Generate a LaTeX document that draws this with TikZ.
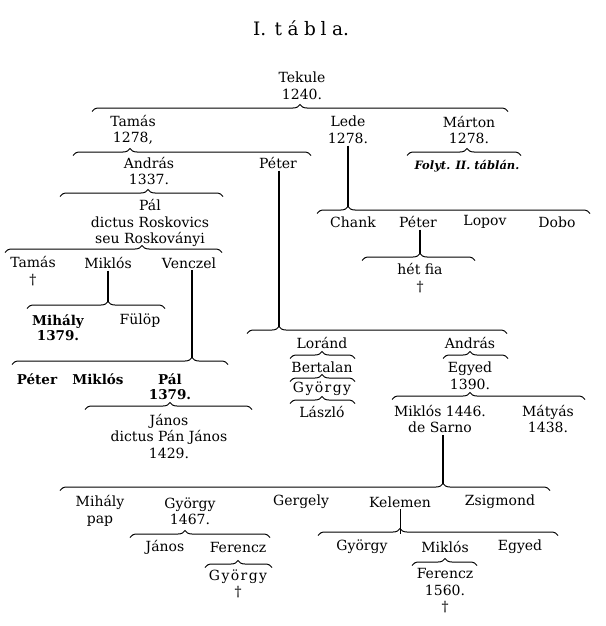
\documentclass[tikz,border=0pt]{standalone}
\usepackage{fontspec}
\setmainfont{DejaVu Serif}
\usetikzlibrary{decorations.pathreplacing}
\tikzset{
  tabla diagram/.style={
    x=1pt, y=-1pt, draw=black,
    every node/.style={font=\fontsize{14}{16.5}\selectfont,
      text=black, inner sep=0pt, outer sep=0pt, align=center}
  },
  tabla brace/.style={decorate, line width=1pt},
  tabla line/.style={line width=1.6pt, shorten <=2pt},
  tabla thin/.style={line width=0.8pt, shorten <=2pt},
  tabla title/.style={font=\fontsize{18.5}{20}\selectfont},
  tabla note/.style={font=\fontsize{11.5}{14}\selectfont\bfseries\itshape},
  tabla bold/.style={font=\fontsize{13.5}{15}\selectfont\bfseries}
}
\newcommand{\TablaBrace}[5]{%
  \pgfmathsetmacro{\tablaAspect}{(#4-#2)/(#3-#2)}%
  \draw[tabla brace, decoration={brace, amplitude=7pt, aspect=\tablaAspect}]
    (#2,#5+3.5) -- (#3,#5+3.5);
  \coordinate (#1) at (#4,#5-3.5);
}
\newcommand{\Spaced}[1]{G\hspace{.1em}y\hspace{.1em}ö\hspace{.1em}r\hspace{.1em}g\hspace{.1em}y}

\begin{document}
\begin{tikzpicture}[tabla diagram]
  \fill[white] (0,0) rectangle (605,626);
  \useasboundingbox (0,0) rectangle (605,626);
  \node[tabla title] (cim) at (301,28)
    {I.\hspace{.45em}t\hspace{.3em}á\hspace{.3em}b\hspace{.25em}l\hspace{.3em}a.};

  \node (tekule) at (302,86) {Tekule\\1240.};
  \TablaBrace{tekuleK}{92}{508}{300}{108}

  \node (tamas) at (133,130) {Tamás\\1278,};
  \node (lede) at (348,130) {Lede\\1278.};
  \node (marton) at (469,130) {Márton\\1278.};
  \TablaBrace{tamasK}{73}{311}{130}{152}
  \TablaBrace{martonK}{407}{521}{467}{152}
  \node[tabla note] (folyt) at (467,166) {Folyt. II. táblán.};

  \node (andras) at (149,171) {András\\1337.};
  \node (peter) at (278,163) {Péter};
  \TablaBrace{andrasK}{60}{223}{148}{193}
  \node (pal) at (150,223) {Pál\\dictus Roskovics\\seu Roskoványi};
  \TablaBrace{palK}{5}{222}{142}{249}

  \node (tamasb) at (33,271) {Tamás\\†};
  \node (miklos) at (108,263) {Miklós};
  \node (venczel) at (189,263) {Venczel};
  \TablaBrace{miklosK}{27}{165}{108}{305}
  \draw[tabla line] (miklosK |- miklos.south) -- (miklosK);
  \node[tabla bold] (mihaly) at (58,328) {Mihály\\1379.};
  \node (fulop) at (140,321) {Fülöp};
  \TablaBrace{venczelK}{12}{228}{192}{361}
  \draw[tabla line] (venczelK |- venczel.south) -- (venczelK);

  \node[tabla bold] (peterb) at (37,379) {Péter};
  \node[tabla bold] (miklosb) at (98,379) {Miklós};
  \node[tabla bold] (palb) at (170,387) {Pál\\1379.};
  \TablaBrace{palbK}{85}{252}{170}{406}
  \node (janos) at (169,436) {János\\dictus Pán János\\1429.};

  \TablaBrace{peterK}{247}{507}{279}{330}
  \draw[tabla line] (peterK |- peter.south) -- (peterK);
  \node (lorand) at (322,343) {Loránd};
  \TablaBrace{lorandK}{290}{355}{322}{355}
  \node (bertalan) at (322,367) {Bertalan};
  \TablaBrace{bertalanK}{290}{355}{322}{378}
  \node (gyorgy) at (322,389) {\Spaced{György}};
  \TablaBrace{gyorgyK}{290}{355}{322}{400}
  \node (laszlo) at (322,412) {László};

  \node (andrasb) at (470,343) {András};
  \TablaBrace{andrasbK}{443}{508}{470}{355}
  \node (egyed) at (470,376) {Egyed\\1390.};
  \TablaBrace{egyedK}{392}{585}{470}{396}
  \node (miklosc) at (440,419) {Miklós 1446.\\de Sarno};
  \node (matyas) at (548,419) {Mátyás\\1438.};

  \TablaBrace{mikloscK}{60}{550}{443}{487}
  \draw[tabla line] (mikloscK |- miklosc.south) -- (mikloscK);
  \node (mihalyb) at (100,511) {Mihály\\pap};
  \node (gyorgyb) at (190,511) {György\\1467.};
  \node (gergely) at (301,502) {Gergely};
  \node (kelemen) at (400,502) {Kelemen};
  \node (zsigmond) at (500,502) {Zsigmond};

  \TablaBrace{gyorgybK}{130}{270}{185}{534}
  \node (janosb) at (165,547) {János};
  \node (ferencz) at (238,547) {Ferencz};
  \TablaBrace{ferenczK}{205}{272}{238}{564}
  \node (gyorgyc) at (238,584) {\Spaced{György}\\†};

  \TablaBrace{kelemenK}{318}{558}{400}{532}
  \draw[tabla thin] (kelemenK |- kelemen.south) -- ([yshift=-5pt]kelemenK);
  \node (gyorgyd) at (362,547) {György};
  \node (miklosd) at (445,547) {Miklós};
  \node (egyedb) at (520,547) {Egyed};
  \TablaBrace{miklosdK}{412}{477}{445}{562}
  \node (ferenczb) at (445,591) {Ferencz\\1560.\\†};

  \TablaBrace{ledeK}{317}{590}{348}{210}
  \draw[tabla line] (ledeK |- lede.south) -- (ledeK);
  \node (chank) at (353,222) {Chank};
  \node (peterc) at (418,222) {Péter};
  \node (lopov) at (485,222) {Lopov};
  \node (dobo) at (557,222) {Dobo};
  \TablaBrace{petercK}{362}{475}{420}{257}
  \draw[tabla line] (petercK |- peterc.south) -- (petercK);
  \node (hetfia) at (420,278) {hét fia\\†};
\end{tikzpicture}
\end{document}
